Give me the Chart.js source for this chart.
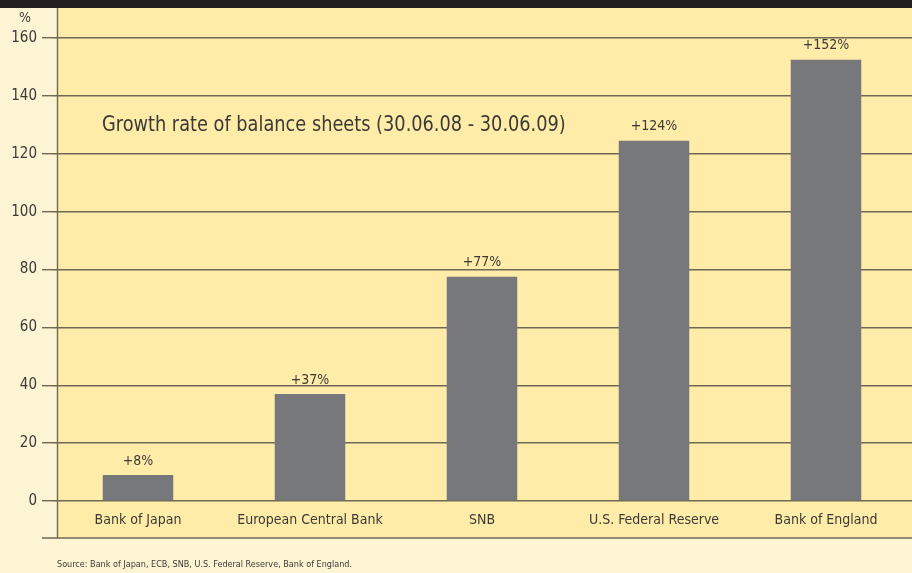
<!DOCTYPE html>
<html>
<head>
<meta charset="utf-8">
<script src="https://cdn.jsdelivr.net/npm/chart.js@4.4.1/dist/chart.umd.min.js"></script>
<style>
  html, body { margin: 0; padding: 0; background: #fdf4d4; }
  #wrap { width: 912px; height: 573px; position: relative; }
</style>
</head>
<body>
<div id="wrap"><canvas id="chart" width="912" height="573"></canvas></div>
<script>
// Data
const banks = ['Bank of Japan', 'European Central Bank', 'SNB', 'U.S. Federal Reserve', 'Bank of England'];
const growth = [9, 37, 77.5, 124.5, 152.5];
const growthLabels = ['+8%', '+37%', '+77%', '+124%', '+152%'];
const yTicks = [0, 20, 40, 60, 80, 100, 120, 140, 160];

const chartTitle = 'Growth rate of balance sheets (30.06.08 - 30.06.09)';
const sourceNote = 'Source: Bank of Japan, ECB, SNB, U.S. Federal Reserve, Bank of England.';

const FONT = '"Liberation Sans Narrow", "DejaVu Sans Condensed", "Roboto", sans-serif';
const TEXT = '#3b3a36';
const GRID = '#6f6855';

// background panels, drawn under the chart
const backdrop = {
    id: 'backdrop',
    beforeDraw(chart) {
        const ctx = chart.ctx;
        ctx.save();
        ctx.fillStyle = '#fdf4d4';
        ctx.fillRect(0, 0, 912, 573);
        ctx.fillStyle = '#feeca8';
        ctx.fillRect(57, 8, 855, 530);
        ctx.fillStyle = '#231f20';
        ctx.fillRect(0, 0, 912, 8);
        ctx.restore();
    },
    afterDraw(chart) {
        const ctx = chart.ctx;
        ctx.save();
        ctx.strokeStyle = GRID;
        ctx.lineWidth = 1.4;
        ctx.beginPath();
        ctx.moveTo(57.5, 8);
        ctx.lineTo(57.5, 538);
        ctx.moveTo(42, 538);
        ctx.lineTo(912, 538);
        ctx.stroke();

        ctx.fillStyle = TEXT;
        ctx.font = '14px ' + FONT;
        ctx.textAlign = 'center';
        ctx.textBaseline = 'middle';
        ctx.fillText('%', 25, 18);

        // title is a condensed face in the original, squeeze it a little
        ctx.save();
        ctx.translate(102, 126);
        ctx.scale(0.94, 1);
        ctx.font = '21px ' + FONT;
        ctx.textAlign = 'left';
        ctx.fillText(chartTitle, 0, 0);
        ctx.restore();

        ctx.font = '9px ' + FONT;
        ctx.textAlign = 'left';
        ctx.fillText(sourceNote, 57, 565);

        // value labels above bars
        ctx.font = '14px ' + FONT;
        ctx.textAlign = 'center';
        const meta = chart.getDatasetMeta(0);
        meta.data.forEach((bar, i) => {
            ctx.fillText(growthLabels[i], bar.x, bar.y - 14);
        });
        ctx.restore();
    }
};

const ctx = document.getElementById('chart').getContext('2d');
new Chart(ctx, {
    type: 'bar',
    data: {
        labels: banks,
        datasets: [{
            data: growth,
            backgroundColor: '#77787c',
            categoryPercentage: 1,
            barPercentage: 0.41
        }]
    },
    options: {
        responsive: false,
        animation: false,
        layout: { padding: { top: 38, right: 0, left: 0, bottom: 0 } },
        plugins: { legend: { display: false }, tooltip: { enabled: false } },
        scales: {
            x: {
                grid: { display: false, drawTicks: false },
                border: { display: false },
                ticks: { color: TEXT, font: { family: FONT, size: 14 }, padding: 11, maxRotation: 0 },
                afterFit(scale) { scale.height = 72; }
            },
            y: {
                min: 0,
                max: 160,
                afterBuildTicks(scale) { scale.ticks = yTicks.map(v => ({ value: v })); },
                grid: { color: GRID, lineWidth: 1.4, tickLength: 10 },
                border: { display: false },
                ticks: { color: TEXT, font: { family: FONT, size: 15 }, padding: 5 },
                afterFit(scale) { scale.width = 52; }
            }
        }
    },
    plugins: [backdrop]
});
</script>
</body>
</html>
